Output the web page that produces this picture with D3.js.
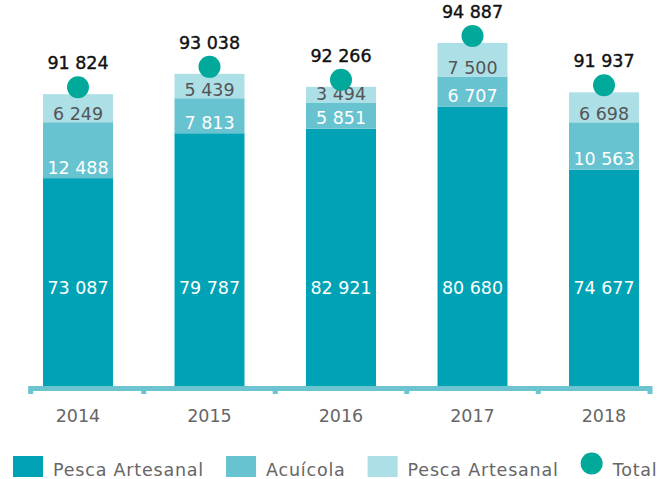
<!DOCTYPE html>
<html>
<head>
<meta charset="utf-8">
<script src="https://cdn.jsdelivr.net/npm/d3@7"></script>
<style>
  body { margin: 0; background: #fff; }
  text { font-family: "DejaVu Sans", sans-serif; }
</style>
</head>
<body>
<div id="chart"></div>
<script>
var years = ["2014", "2015", "2016", "2017", "2018"];
var artesanal = [73087, 79787, 82921, 80680, 74677];
var acuicola = [12488, 7813, 5851, 6707, 10563];
var artesanal2 = [6249, 5439, 3494, 7500, 6698];
var totals = [91824, 93038, 92266, 94887, 91937];
var legendNames = ["Pesca Artesanal", "Acuícola", "Pesca Artesanal", "Total"];

var colors = ["#00a3b5", "#68c3d0", "#acdfe6"];
var dotColor = "#00a99a";

var width = 669, height = 479,
    baseY = 386;

var fmt = d3.formatLocale({decimal: ",", thousands: " ", grouping: [3], currency: ["", ""]}).format(",");

var svg = d3.select("#chart")
  .append("svg")
    .attr("width", width)
    .attr("height", height);

// bar centres
var x = d3.scalePoint()
  .domain(years)
  .range([78, 604]);
var barW = 70;
var step = x.step();

// broken axis: bar tops from totals
var yTop = d3.scaleLinear()
  .domain([91000, 95000])
  .range([108, 41]);
// upper segments: height scale
var hSeg = d3.scaleLinear()
  .domain([0, 10000])
  .range([0, 44.8]);

var data = years.map(function(y, i) {
  var top = yTop(totals[i]);
  var b2 = top + hSeg(artesanal2[i]);
  var b1 = b2 + hSeg(acuicola[i]);
  return {year: y, top: top, b2: b2, b1: b1,
          v0: artesanal[i], v1: acuicola[i], v2: artesanal2[i], total: totals[i]};
});

var g = svg.append("g");

// bottom segment
g.selectAll("rect.s0").data(data).enter().append("rect")
  .attr("x", function(d) { return x(d.year) - barW / 2; })
  .attr("y", function(d) { return d.b1; })
  .attr("width", barW)
  .attr("height", function(d) { return baseY - d.b1; })
  .attr("fill", colors[0]);

g.selectAll("rect.s1").data(data).enter().append("rect")
  .attr("x", function(d) { return x(d.year) - barW / 2; })
  .attr("y", function(d) { return d.b2; })
  .attr("width", barW)
  .attr("height", function(d) { return d.b1 - d.b2; })
  .attr("fill", colors[1]);

g.selectAll("rect.s2").data(data).enter().append("rect")
  .attr("x", function(d) { return x(d.year) - barW / 2; })
  .attr("y", function(d) { return d.top; })
  .attr("width", barW)
  .attr("height", function(d) { return d.b2 - d.top; })
  .attr("fill", colors[2]);

// segment labels
g.selectAll("text.l0").data(data).enter().append("text")
  .attr("x", function(d) { return x(d.year); })
  .attr("y", baseY - 92)
  .attr("text-anchor", "middle")
  .attr("font-size", 17.5)
  .attr("fill", "#fff")
  .text(function(d) { return fmt(d.v0); });

g.selectAll("text.l1").data(data).enter().append("text")
  .attr("x", function(d) { return x(d.year); })
  .attr("y", function(d) { return d.b1 - 4.5; })
  .attr("text-anchor", "middle")
  .attr("font-size", 17.5)
  .attr("fill", "#fff")
  .text(function(d) { return fmt(d.v1); });

g.selectAll("text.l2").data(data).enter().append("text")
  .attr("x", function(d) { return x(d.year); })
  .attr("y", function(d) { return d.b2 - 2; })
  .attr("text-anchor", "middle")
  .attr("font-size", 17.5)
  .attr("fill", "#555")
  .text(function(d) { return fmt(d.v2); });

// total dots + labels
g.selectAll("circle.tot").data(data).enter().append("circle")
  .attr("cx", function(d) { return x(d.year); })
  .attr("cy", function(d) { return d.top - 7; })
  .attr("r", 11)
  .attr("fill", dotColor);

g.selectAll("text.tot").data(data).enter().append("text")
  .attr("x", function(d) { return x(d.year); })
  .attr("y", function(d) { return d.top - 25; })
  .attr("text-anchor", "middle")
  .attr("font-size", 17.5)
  .attr("fill", "#111")
  .attr("stroke", "#111")
  .attr("stroke-width", 0.4)
  .text(function(d) { return fmt(d.total); });

// x axis
var axisCol = "#6cc4d0";
var x0 = x(years[0]) - step * 0.36, x1 = x(years[years.length - 1]) + step * 0.35;
svg.append("rect")
  .attr("x", x0).attr("y", baseY)
  .attr("width", x1 - x0).attr("height", 5)
  .attr("fill", axisCol);
var tickX = [x0].concat(years.slice(1).map(function(y) { return x(y) - step / 2; }), [x1]);
svg.selectAll("rect.tick").data(tickX).enter().append("rect")
  .attr("x", function(d) { return d - 2.5; })
  .attr("y", baseY)
  .attr("width", 5).attr("height", 8)
  .attr("fill", axisCol);

svg.selectAll("text.year").data(years).enter().append("text")
  .attr("x", function(d) { return x(d); })
  .attr("y", 421.5)
  .attr("text-anchor", "middle")
  .attr("font-size", 17.5)
  .attr("fill", "#666")
  .text(function(d) { return d; });

// legend
var lx = 13, ly = 456;
legendNames.forEach(function(name, i) {
  var item = svg.append("g");
  var symW;
  if (i < 3) {
    item.append("rect")
      .attr("x", lx).attr("y", ly)
      .attr("width", 30).attr("height", 21)
      .attr("fill", colors[i]);
    symW = 30;
  } else {
    item.append("circle")
      .attr("cx", lx + 11).attr("cy", ly + 7.5)
      .attr("r", 11)
      .attr("fill", dotColor);
    symW = 22;
  }
  var t = item.append("text")
    .attr("x", lx + symW + 10)
    .attr("y", ly + 19.5)
    .attr("font-size", 17.5)
    .attr("letter-spacing", 0.8)
    .attr("fill", "#666")
    .text(name);
  lx = lx + symW + 10 + t.node().getComputedTextLength() + 22;
});
</script>
</body>
</html>
